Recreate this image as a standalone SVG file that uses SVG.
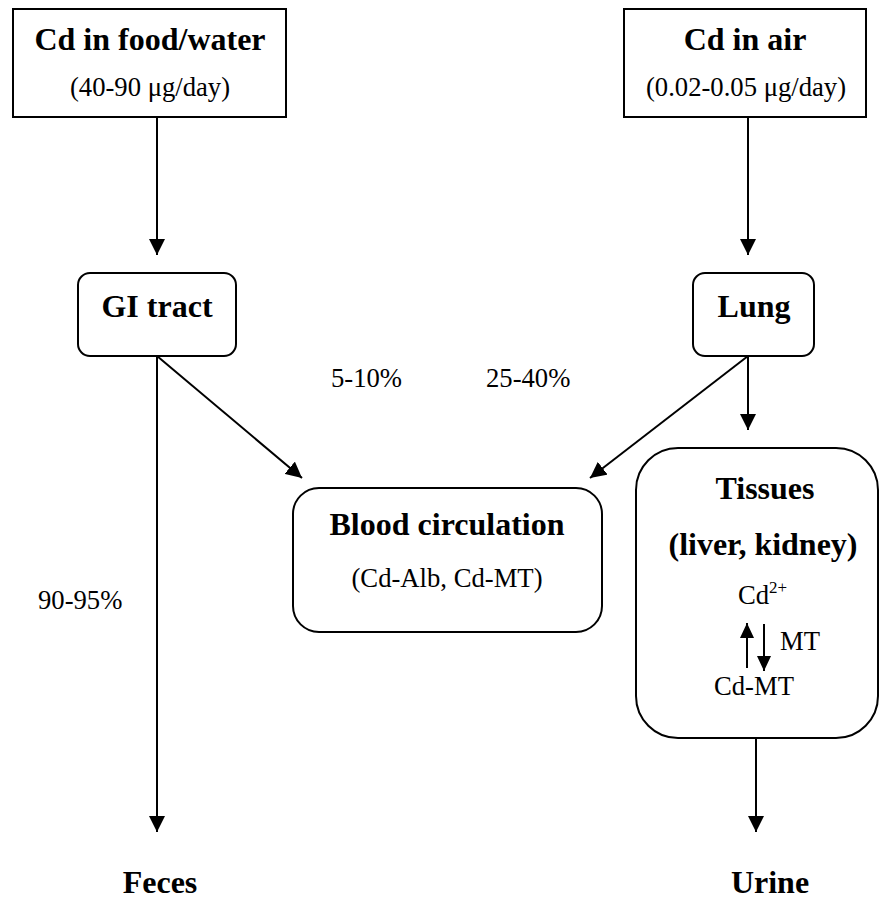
<svg xmlns="http://www.w3.org/2000/svg" width="880" height="900" viewBox="0 0 880 900">
<style>
.box{fill:#fff;stroke:#000;stroke-width:2}
.b{font-family:"Liberation Serif","Times New Roman",serif;font-weight:bold;font-size:32px;text-anchor:middle;fill:#000}
.r{font-family:"Liberation Serif","Times New Roman",serif;font-size:26.67px;text-anchor:middle;fill:#000}
.rl{font-family:"Liberation Serif","Times New Roman",serif;font-size:26.67px;fill:#000}
.c{stroke:#000;stroke-width:2;fill:none;marker-end:url(#ah)}
.cs{stroke:#000;stroke-width:2;fill:none;marker-end:url(#ahs)}
</style>
<defs>
<marker id="ah" viewBox="0 0 16 16" refX="16" refY="8" markerWidth="16" markerHeight="16" orient="auto" markerUnits="userSpaceOnUse"><path d="M0,0 L16,8 L0,16 z" fill="#000"/></marker>
<marker id="ahs" viewBox="0 0 15 14" refX="15" refY="7" markerWidth="15" markerHeight="14" orient="auto" markerUnits="userSpaceOnUse"><path d="M0,0 L15,7 L0,14 z" fill="#000"/></marker>
</defs>
<g id="food">
<rect class="box" x="13" y="9" width="273" height="108"/>
<text class="b" x="150" y="50">Cd in food/water</text>
<text class="r" x="150" y="96">(40-90 μg/day)</text>
</g>
<g id="air">
<rect class="box" x="624" y="9" width="242" height="108"/>
<text class="b" x="745" y="50">Cd in air</text>
<text class="r" x="746" y="96">(0.02-0.05 μg/day)</text>
</g>
<g id="gi">
<rect class="box" x="78" y="273" width="158" height="83" rx="12"/>
<text class="b" x="157" y="317">GI tract</text>
</g>
<g id="lung">
<rect class="box" x="693" y="273" width="121" height="83" rx="12"/>
<text class="b" x="754" y="317">Lung</text>
</g>
<g id="blood">
<rect class="box" x="293" y="488" width="309" height="144" rx="26"/>
<text class="b" x="447" y="535">Blood circulation</text>
<text class="r" x="447" y="587">(Cd-Alb, Cd-MT)</text>
</g>
<g id="tissues">
<rect class="box" x="636" y="448" width="242" height="290" rx="42"/>
<text class="b" x="765" y="499">Tissues</text>
<text class="b" x="763" y="555">(liver, kidney)</text>
<text class="rl" x="738" y="604">Cd<tspan font-size="17" dy="-11">2+</tspan></text>
<text class="rl" x="780" y="650">MT</text>
<text class="r" x="754" y="695">Cd-MT</text>
<line class="cs" x1="747" y1="668" x2="747" y2="623"/>
<line class="cs" x1="764" y1="624" x2="764" y2="671"/>
</g>
<g id="feces"><text class="b" x="160" y="893">Feces</text></g>
<g id="urine"><text class="b" x="770" y="893">Urine</text></g>
<g id="labels">
<text class="rl" x="331" y="387">5-10%</text>
<text class="rl" x="486" y="387">25-40%</text>
<text class="rl" x="38" y="609">90-95%</text>
</g>
<g id="connectors">
<line class="c" x1="157" y1="117" x2="157" y2="255"/>
<line class="c" x1="748" y1="117" x2="748" y2="255"/>
<line class="c" x1="157" y1="356" x2="157" y2="832"/>
<line class="c" x1="157" y1="356" x2="302" y2="478"/>
<line class="c" x1="748" y1="356" x2="590" y2="478"/>
<line class="c" x1="748" y1="356" x2="748" y2="430"/>
<line class="c" x1="756" y1="738" x2="756" y2="832"/>
</g>
</svg>
